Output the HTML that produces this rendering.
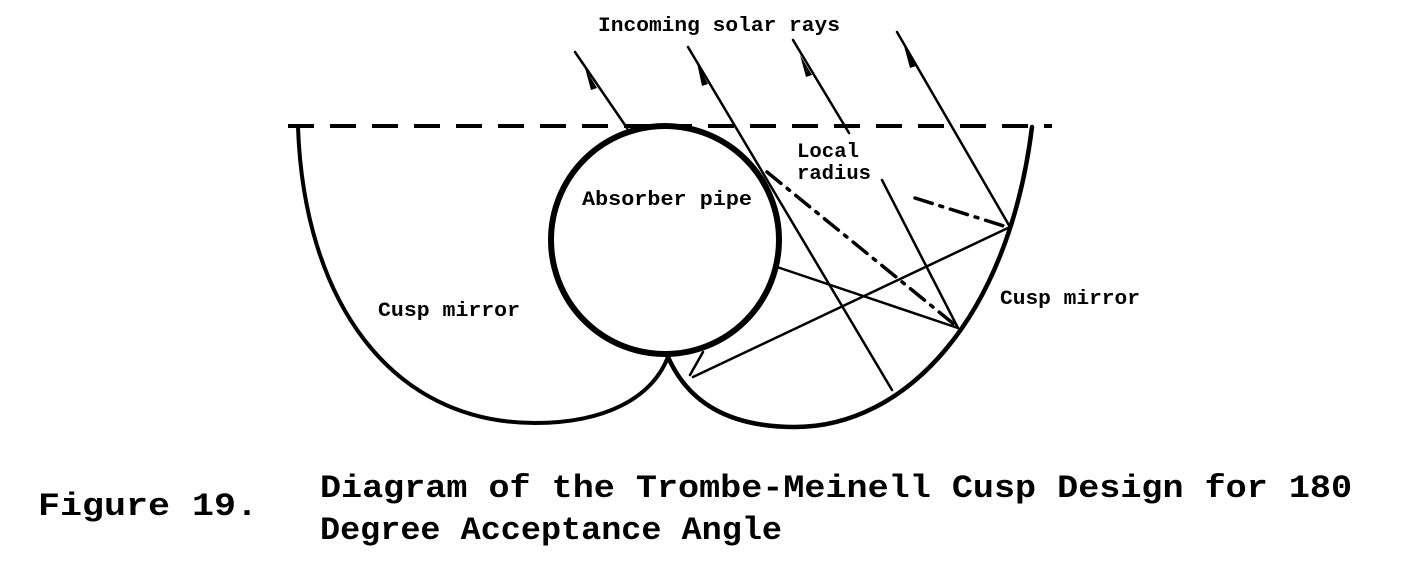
<!DOCTYPE html>
<html><head><style>
html,body{margin:0;padding:0;background:#fff;width:1408px;height:570px;overflow:hidden}
svg{display:block}
text{font-family:"Liberation Mono",monospace;font-weight:bold;fill:#000}
</style></head><body>
<svg width="1408" height="570" viewBox="0 0 1408 570" xmlns="http://www.w3.org/2000/svg">
<g fill="none" stroke="#000" stroke-linecap="round">
<line x1="288" y1="126" x2="1052" y2="126" stroke-width="4" stroke-dasharray="26,16" stroke-linecap="butt"/>
<path d="M298,127 C304,300 390,423 535,423 C605,423 652,398 668,357" stroke-width="4"/>
<path d="M668,357 C688,402 728,427 795,427 C905,427 1008,320 1032,127" stroke-width="4.5"/>
<ellipse cx="665" cy="240" rx="114" ry="114" stroke-width="6"/>
<g stroke-width="2.5">
<line x1="575" y1="52" x2="627" y2="128"/>
<line x1="688" y1="47" x2="892" y2="390"/>
<line x1="793" y1="40" x2="849" y2="133"/>
<line x1="882" y1="180" x2="958" y2="328"/>
<line x1="897" y1="32" x2="1010" y2="227"/>
<line x1="1010" y1="227" x2="693" y2="377"/>
<line x1="777" y1="267" x2="958" y2="328"/>
<line x1="703" y1="352" x2="690" y2="375"/>
</g>
<g stroke-width="3.5" stroke-dasharray="18,8,3,8">
<line x1="767" y1="172" x2="955" y2="325"/>
<line x1="915" y1="198" x2="1007" y2="227"/>
</g>
</g>
<g fill="#000">
<polygon points="585,68 597,88 591,90"/>
<polygon points="697,63 708,84 702,86"/>
<polygon points="800,55 812,75 806,77"/>
<polygon points="904,46 916,66 910,68"/>
</g>
<g lengthAdjust="spacingAndGlyphs">
<text x="598" y="31" font-size="20" textLength="242" lengthAdjust="spacingAndGlyphs">Incoming solar rays</text>
<text x="797" y="157" font-size="20" textLength="62" lengthAdjust="spacingAndGlyphs">Local</text>
<text x="797" y="179" font-size="20" textLength="74" lengthAdjust="spacingAndGlyphs">radius</text>
<text x="582" y="205" font-size="20" textLength="170" lengthAdjust="spacingAndGlyphs">Absorber pipe</text>
<text x="378" y="316" font-size="20" textLength="142" lengthAdjust="spacingAndGlyphs">Cusp mirror</text>
<text x="1000" y="304" font-size="20" textLength="140" lengthAdjust="spacingAndGlyphs">Cusp mirror</text>
<text x="38" y="515" font-size="32" textLength="220" lengthAdjust="spacingAndGlyphs">Figure  19.</text>
<text x="320" y="497" font-size="32" textLength="1032" lengthAdjust="spacingAndGlyphs">Diagram of the Trombe-Meinell Cusp Design  for  180</text>
<text x="320" y="539" font-size="32" textLength="462" lengthAdjust="spacingAndGlyphs">Degree Acceptance Angle</text>
</g>
</svg>
</body></html>
